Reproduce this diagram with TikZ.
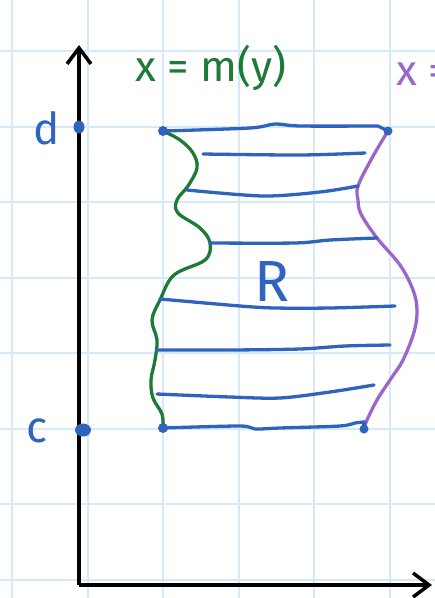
\documentclass[tikz,border=0pt]{standalone}
\usepackage{fontspec}
\setmainfont{Fira Sans}
\usetikzlibrary{arrows.meta, positioning}
\definecolor{gridblue}{RGB}{212,234,250}
\definecolor{inkblue}{RGB}{47,99,190}
\definecolor{inkgreen}{RGB}{30,122,55}
\definecolor{inkpurple}{RGB}{155,102,204}

\begin{document}
\begin{tikzpicture}[x=1pt, y=-1pt,
        gridline/.style={gridblue, line width=2pt},
        axis/.style={-{Straight Barb[length=16pt, width=24pt, line width=3.5pt]}, line width=4pt, black},
        strip/.style={inkblue, line width=3.3pt, line cap=round},
        curve/.style={line width=3.3pt, line cap=round},
        lab/.style={inner sep=0pt, font=\fontsize{44}{44}\selectfont},
        dotmark/.style={fill=inkblue}
    ]
        \useasboundingbox (0,0) rectangle (435,598);
        \clip (0,0) rectangle (435,598);
        \fill[white] (0,0) rectangle (435,598);

        % grid paper
        \foreach \gx in {12,87.5,163,238.5,314,389.5}
            \draw[gridline] (\gx,0) -- (\gx,598);
        \foreach \gy in {51,126.5,202,277.5,353,428.5,504,579.5}
            \draw[gridline] (0,\gy) -- (435,\gy);

        % axes
        \coordinate (origin) at (79,585);
        \coordinate (ytip) at (79,45);
        \coordinate (xtip) at (432,585);
        \draw[axis] (origin) -- (ytip);
        \draw[axis] (origin) -- (xtip);

        % corners of R
        \coordinate (tl) at (163,131);
        \coordinate (tr) at (388,131);
        \coordinate (bl) at (163,428);
        \coordinate (br) at (364,429);

        % left boundary x = m(y)
        \draw[curve, inkgreen] plot[smooth, tension=0.6] coordinates {(tl) (180,140) (193,153) (197,168) (188,186) (177,200) (178,213) (200,228) (210,243) (205,260) (174,275) (160,300) (152,320) (157,340) (155,360) (151,380) (153,398) (162,414) (bl)};

        % right boundary
        \draw[curve, inkpurple] plot[smooth, tension=0.6] coordinates {(tr) (372,158) (358,186) (358,200) (361,214) (377,238) (400,265) (413,290) (417,310) (414,332) (403,360) (390,380) (377,400) (367,420) (br)};

        % strips
        \draw[strip] plot[smooth, tension=0.5] coordinates {(tl) (250,128) (275,124) (300,126) (378,126)};
        \draw[strip] (378,126) -- (tr);
        \draw[strip] plot[smooth, tension=0.5] coordinates {(203,154) (300,155) (365,153)};
        \draw[strip] plot[smooth, tension=0.5] coordinates {(187,190) (263,196) (320,192) (358,186)};
        \draw[strip] plot[smooth, tension=0.5] coordinates {(210,243) (295,243) (330,240) (377,238)};
        \draw[strip] plot[smooth, tension=0.5] coordinates {(160,299) (240,306) (275,308) (330,308) (395,306)};
        \draw[strip] plot[smooth, tension=0.5] coordinates {(157,350) (230,350) (300,349) (345,346) (390,345)};
        \draw[strip] plot[smooth, tension=0.5] coordinates {(157,394) (230,397) (280,398) (330,392) (374,385)};
        \draw[strip] plot[smooth, tension=0.5] coordinates {(bl) (240,426) (255,429) (280,428) (340,426) (355,423) (364,422)};
        \draw[strip] (364,422) -- (br);

        % dots
        \coordinate (dtick) at (79,127);
        \coordinate (ctick) at (83,430);
        \fill[dotmark] (dtick) ellipse (5.5pt and 6.5pt);
        \fill[dotmark] (ctick) ellipse (8pt and 6.5pt);
        \fill[dotmark] (tl) circle (5pt);
        \fill[dotmark] (tr) circle (4.5pt);
        \fill[dotmark] (bl) circle (5pt);
        \fill[dotmark] (br) circle (4.5pt);

        % labels
        \node[lab, inkblue] (dlab) at (47,128) {d};
        \node[lab, inkblue] (clab) at (37,431) {c};
        \node[lab, inkblue, font=\fontsize{58}{58}\selectfont] (rlab) at (272,282) {R};
        \node[lab, inkgreen, font=\fontsize{43}{43}\selectfont] (mlab) at (211,68) {x = m(y)};
        \node[lab, inkpurple, font=\fontsize{43}{43}\selectfont, anchor=west] (nlab) at (396,74) {x =};
    \end{tikzpicture}
\end{document}
